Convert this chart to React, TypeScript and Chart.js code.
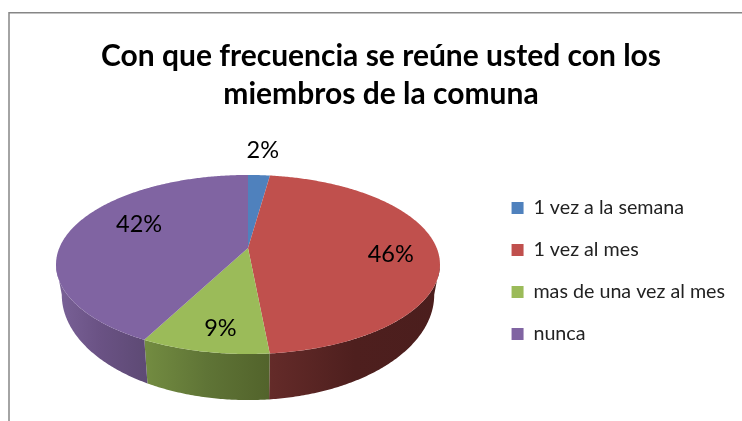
import React, { useEffect, useRef } from "react";
import { Chart, registerables } from "chart.js";

Chart.register(...registerables);

const titleLines = ["Con que frecuencia se reúne usted con los", "miembros de la comuna"];
const categories = ["1 vez a la semana", "1 vez al mes", "mas de una vez al mes", "nunca"];
const shares = [2.2, 46.3, 9.1, 42.4];
const percentLabels = ["2%", "46%", "9%", "42%"];
const topColors = ["#4f81bd", "#c0504d", "#9bbb59", "#8064a2"];
const sideColorsLeft = ["#3a5f8c", "#642b29", "#738c41", "#7a6298"];
const sideColorsMid = ["#34547c", "#4e1f1e", "#5f7436", "#6a5284"];
const sideColorsRight = ["#34547c", "#4b1e1d", "#52632b", "#5e4a75"];
const labelRadius = [1.43, 0.75, 0.8, 0.675];
const labelAngleShift = [0, 4, -2, 12];

const CX = 248;
const CY = 248;
const BX = 188.7;
const AY = 86.5;
const K = 0.184;
const DEPTH = 27.4;
const SHRINK_X = 0.97;
const SHRINK_Y = 1.176;
const FRONT_START = Math.asin(K);
const FRONT_END = Math.PI - Math.asin(K);

function project(u: number, v: number) {
  const w = 1 - K * v;
  return { x: CX + (BX * u) / w, y: CY + (AY * v) / w };
}
function lower(p: { x: number; y: number }) {
  return { x: CX + SHRINK_X * (p.x - CX), y: CY + SHRINK_Y * (p.y - CY) + DEPTH };
}
function arcPoints(a0: number, a1: number) {
  const n = Math.max(4, Math.ceil(Math.abs(a1 - a0) / 0.01));
  const pts = [];
  for (let i = 0; i <= n; i++) {
    const a = a0 + ((a1 - a0) * i) / n;
    pts.push(project(Math.cos(a), Math.sin(a)));
  }
  return pts;
}

const pie3d = {
  id: "pie3d",
  beforeDraw(chart: any) {
    const { ctx } = chart;
    ctx.save();
    ctx.fillStyle = "#ffffff";
    ctx.fillRect(0, 0, 742, 421);
    ctx.strokeStyle = "#868686";
    ctx.lineWidth = 1.5;
    ctx.beginPath();
    ctx.moveTo(9, 421);
    ctx.lineTo(9, 12.75);
    ctx.lineTo(742, 12.75);
    ctx.stroke();
    ctx.restore();
  },
  beforeDatasetsDraw(chart: any) {
    const { ctx } = chart;
    const arcs = chart.getDatasetMeta(0).data;
    ctx.save();
    arcs.forEach((arc: any, i: number) => {
      const a0 = Math.max(arc.startAngle, FRONT_START);
      const a1 = Math.min(arc.endAngle, FRONT_END);
      if (a1 <= a0) return;
      const pts = arcPoints(a0, a1);
      const low = pts.map(lower);
      const xs = pts.map((p) => p.x);
      const g = ctx.createLinearGradient(Math.min(...xs), 0, Math.max(...xs), 0);
      g.addColorStop(0, sideColorsLeft[i]);
      g.addColorStop(0.5, sideColorsMid[i]);
      g.addColorStop(1, sideColorsRight[i]);
      ctx.fillStyle = g;
      ctx.beginPath();
      pts.forEach((p, j) => (j ? ctx.lineTo(p.x, p.y) : ctx.moveTo(p.x, p.y)));
      low.reverse().forEach((p) => ctx.lineTo(p.x, p.y));
      ctx.closePath();
      ctx.fill();
    });
    arcs.forEach((arc: any, i: number) => {
      const pts = arcPoints(arc.startAngle, arc.endAngle);
      ctx.fillStyle = topColors[i];
      ctx.beginPath();
      ctx.moveTo(CX, CY);
      pts.forEach((p) => ctx.lineTo(p.x, p.y));
      ctx.closePath();
      ctx.fill();
    });
    ctx.fillStyle = "#000000";
    ctx.font = '23.5px Lato, "Open Sans", sans-serif';
    ctx.textAlign = "center";
    ctx.textBaseline = "middle";
    arcs.forEach((arc: any, i: number) => {
      const mid = (arc.startAngle + arc.endAngle) / 2 + (labelAngleShift[i] * Math.PI) / 180;
      const p = project(labelRadius[i] * Math.cos(mid), labelRadius[i] * Math.sin(mid));
      ctx.fillText(percentLabels[i], p.x, p.y);
    });
    ctx.restore();
    return false;
  },
};

export default function App() {
  const ref = useRef<HTMLCanvasElement | null>(null);
  useEffect(() => {
    const chart = new Chart(ref.current as HTMLCanvasElement, {
      type: "pie",
      data: {
        labels: categories,
        datasets: [{ data: shares, backgroundColor: topColors, borderWidth: 0 }],
      },
      options: {
        animation: false,
        responsive: false,
        layout: { padding: { left: 27, top: 38, right: 7, bottom: -83 } },
        plugins: {
          title: {
            display: true,
            text: titleLines,
            color: "#000000",
            font: { family: "Lato, sans-serif", size: 30, weight: "bold", lineHeight: 1.25 },
            padding: 0,
          },
          legend: {
            position: "right",
            labels: {
              boxWidth: 12,
              boxHeight: 12,
              padding: 22.3,
              color: "#222222",
              font: { family: "Lato, sans-serif", size: 19.7 },
            },
          },
          tooltip: { enabled: false },
        },
      },
      plugins: [pie3d],
    });
    return () => chart.destroy();
  }, []);
  return (
    <div style={{ position: "fixed", left: 0, top: 0 }}>
      <canvas ref={ref} width={742} height={421} style={{ display: "block" }} />
    </div>
  );
}
